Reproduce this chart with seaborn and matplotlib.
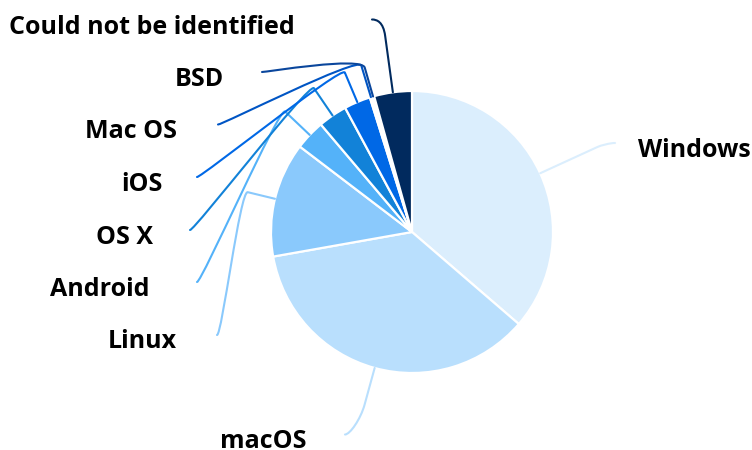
import matplotlib

matplotlib.use("Agg")

import matplotlib.pyplot as plt  # noqa: E402
import numpy as np  # noqa: E402
import seaborn as sns  # noqa: E402
from matplotlib.patches import PathPatch  # noqa: E402
from matplotlib.path import Path  # noqa: E402

# veri (yüzde, saat yönünde, tepeden başlayarak)
labels = ["Windows", "macOS", "Linux", "Android", "OS X", "iOS",
          "Mac OS", "BSD", "Could not be identified"]
shares = [36.32, 35.89, 13.15, 3.45, 3.33, 3.03, 0.25, 0.25, 4.33]
colors = ["#dbeefd", "#b9dffd", "#8ac9fc", "#54b2f9", "#1282d8",
          "#0068e6", "#0055c4", "#0a469c", "#012a5e"]

# etiket yerleşimi (piksel): yazı çapası, bağlayıcı ucu, kırılma mesafesi
text_anchor = [(638, 157), (306, 448), (177, 348), (150, 296), (153, 244),
               (163, 191), (177, 138), (224, 86), (295, 34)]
line_end = [(615, 143), (345, 434.5), (217, 335), (197, 282), (190, 230),
            (197, 177), (218, 124.5), (262, 72), (372, 19.5)]
break_dist = [63, 38, 28, 34, 33, 32, 33, 30, 57]
ctrl_len = [4, 15, 8, 8, 8, 8, 10, 12, 14]

W, H = 752, 450
CX, CY, R = 412, 232, 141

sns.set_theme(style="white")
plt.rcParams["font.family"] = ["Open Sans", "DejaVu Sans"]


def px(x, y):
    return x, H - y


fig = plt.figure(figsize=(W / 100, H / 100), dpi=100)
ax = fig.add_axes([0, 0, 1, 1])
wedges, _ = ax.pie(shares, colors=colors, startangle=90, counterclock=False,
                   radius=R, center=px(CX, CY),
                   wedgeprops=dict(edgecolor="white", linewidth=1.6))
ax.set_xlim(0, W)
ax.set_ylim(0, H)
ax.set_aspect("equal")
ax.axis("off")

for i, w in enumerate(wedges):
    mid = np.deg2rad((w.theta1 + w.theta2) / 2)
    u = np.array([np.cos(mid), np.sin(mid)])
    c = np.array(w.center)
    touch = c + w.r * u
    brk = touch + break_dist[i] * u
    c2 = brk + ctrl_len[i] * u
    ex, ey = px(*line_end[i])
    dx = -5 if ex > CX + 100 else 5
    verts = [(ex, ey), (ex + dx, ey), tuple(c2), tuple(brk), tuple(touch)]
    codes = [Path.MOVETO, Path.CURVE4, Path.CURVE4, Path.CURVE4, Path.LINETO]
    ax.add_patch(PathPatch(Path(verts, codes), fill=False, edgecolor=colors[i],
                           lw=1.5, capstyle="round", joinstyle="round", zorder=1))

    tx, ty = px(*text_anchor[i])
    ha = "left" if i == 0 else "right"
    ax.text(tx, ty, labels[i], ha=ha, va="baseline", fontsize=18,
            fontweight="bold", color="#000000")

fig.savefig("out.png", dpi=100, facecolor="white")
